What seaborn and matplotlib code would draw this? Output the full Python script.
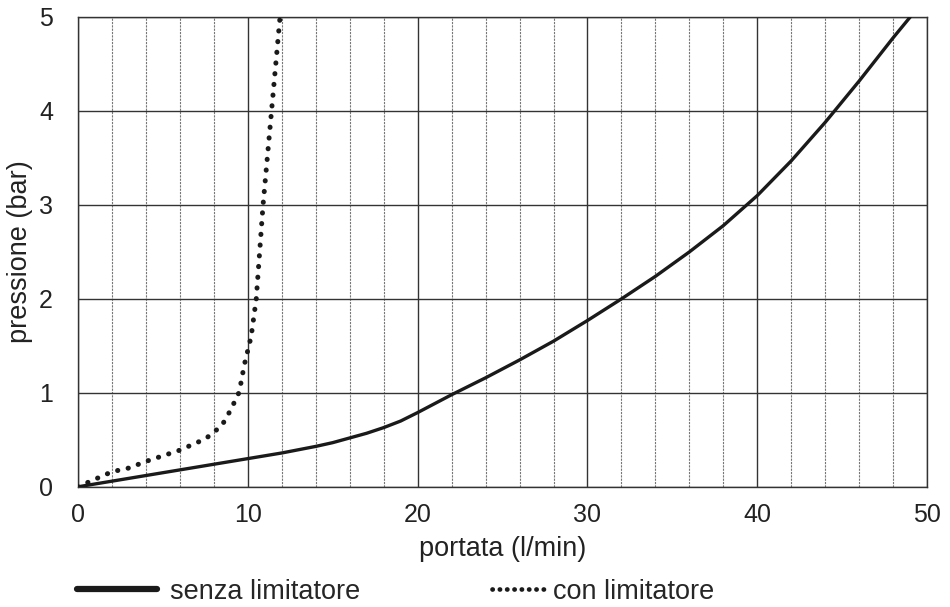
import numpy as np
import pandas as pd
import matplotlib
matplotlib.use("Agg")
import matplotlib.pyplot as plt
from matplotlib.ticker import MultipleLocator
from matplotlib.lines import Line2D
import seaborn as sns

# curve senza limitatore (solid)
senza_x = [0, 2, 4, 6, 8, 10, 12, 14, 15, 16, 17, 18, 19, 20, 22, 24, 26, 28, 30, 32, 34, 36, 38, 40, 42, 44, 46, 48, 49]
senza_y = [0, 0.06, 0.12, 0.18, 0.24, 0.30, 0.36, 0.43, 0.47, 0.52, 0.57, 0.63, 0.7, 0.79, 0.98, 1.16, 1.35, 1.55, 1.77, 2.0, 2.24, 2.5, 2.78, 3.1, 3.47, 3.88, 4.32, 4.78, 5.0]

# curve con limitatore (dotted)
con_x = [0, 1, 2, 3, 4, 5, 6, 7, 7.5, 8, 8.5, 9, 9.5, 9.8, 10.2, 10.5, 10.9, 11.4, 11.9]
con_y = [0, 0.08, 0.16, 0.2, 0.27, 0.33, 0.39, 0.47, 0.51, 0.58, 0.66, 0.82, 1.01, 1.3, 1.6, 2.0, 3.0, 4.0, 5.0]

labels = ["senza limitatore", "con limitatore"]

sns.set_style("white")
plt.rcParams["font.family"] = ["Liberation Sans", "DejaVu Sans"]

fig = plt.figure(figsize=(9.5, 6.07), dpi=100)
ax = fig.add_axes([0.082, 0.198, 0.894, 0.774])

df_s = pd.DataFrame({"x": senza_x, "y": senza_y})
df_c = pd.DataFrame({"x": con_x, "y": con_y})
sns.lineplot(data=df_s, x="x", y="y", ax=ax, color="#1a1a1a", lw=2.4, zorder=3)
sns.lineplot(data=df_c, x="x", y="y", ax=ax, color="#1a1a1a", lw=3.6, zorder=3,
             linestyle=(0, (0.05, 2.1)), dash_capstyle="round")

ax.set_xlim(0, 50)
ax.set_ylim(0, 5)
ax.xaxis.set_major_locator(MultipleLocator(10))
ax.xaxis.set_minor_locator(MultipleLocator(2))
ax.yaxis.set_major_locator(MultipleLocator(1))
ax.grid(which="major", axis="both", color="#333333", lw=1.0)
ax.grid(which="minor", axis="x", color="#777777", lw=0.8, linestyle=(0, (2, 1)))
ax.tick_params(which="both", length=0, labelsize=18, colors="#222222")
ax.tick_params(axis="x", pad=12)
ax.tick_params(axis="y", pad=18)
for s in ax.spines.values():
    s.set_color("#333333")
    s.set_linewidth(1.0)

ax.set_xlabel("portata (l/min)", fontsize=19.5, labelpad=6, color="#222222")
ax.set_ylabel("pressione (bar)", fontsize=19.5, labelpad=4, color="#222222")

h_solid = Line2D([], [], color="#1a1a1a", lw=4.5)
h_dot = Line2D([], [], color="#1a1a1a", lw=3.4, linestyle=(0, (0.05, 1.5)), dash_capstyle="round")
fig.legend([h_solid], [labels[0]], loc="center left", bbox_to_anchor=(0.081, 0.025),
           frameon=False, fontsize=19.5, borderpad=0, borderaxespad=0,
           handlelength=2.96, handletextpad=0.48)
fig.legend([h_dot], [labels[1]], loc="center left", bbox_to_anchor=(0.518, 0.025),
           frameon=False, fontsize=19.5, borderpad=0, borderaxespad=0,
           handlelength=2.03, handletextpad=0.22)

fig.savefig("out.png", dpi=100)
